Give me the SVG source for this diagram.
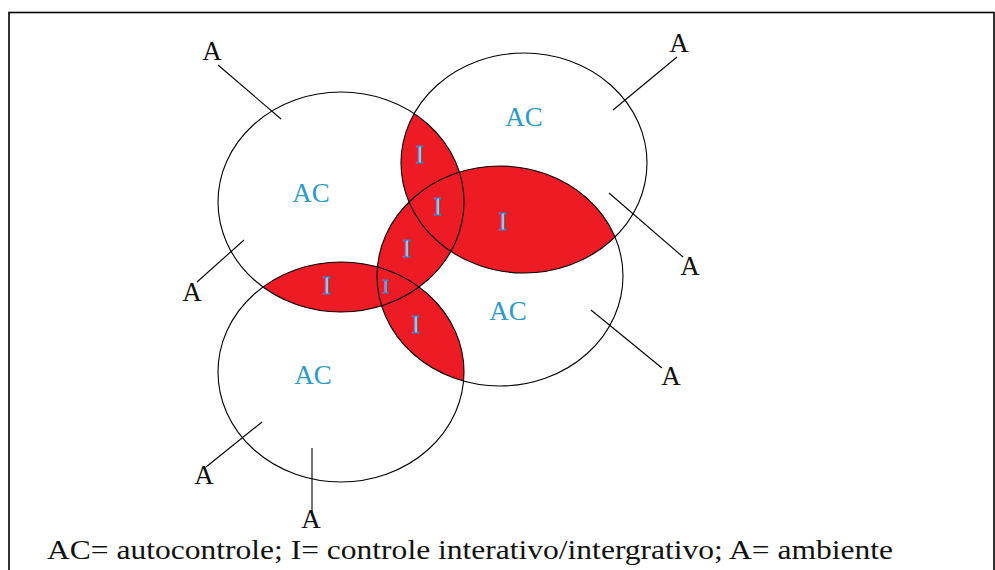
<svg xmlns="http://www.w3.org/2000/svg" xmlns:xlink="http://www.w3.org/1999/xlink" width="995" height="570" viewBox="0 0 995 570">
  <style>
    .ring { fill: none; stroke: #000; stroke-width: 1.1; }
    .lens { fill: #ED1C24; stroke: none; }
    .lead { stroke: #000; stroke-width: 1.1; fill: none; }
    .a { font-family: "Liberation Serif", "Times New Roman", serif; font-size: 27px; fill: #111; text-anchor: middle; }
    .ac { font-family: "Liberation Serif", "Times New Roman", serif; font-size: 27px; fill: #2B9ACB; text-anchor: middle; }
    .i { font-family: "Liberation Serif", "Times New Roman", serif; font-size: 25px; fill: #EEF7FD; stroke: #3F7EC4; stroke-width: 1.1; text-anchor: middle; }
    .legend { font-family: "Liberation Serif", "Times New Roman", serif; font-size: 28px; fill: #111; }
  </style>
  <defs>
    <ellipse id="eUL" cx="341" cy="202" rx="123" ry="110"/>
    <ellipse id="eUR" cx="524" cy="163" rx="123" ry="110"/>
    <ellipse id="eLR" cx="500" cy="276" rx="123" ry="110"/>
    <ellipse id="eLL" cx="341" cy="372" rx="123" ry="110"/>
    <clipPath id="cUL"><use xlink:href="#eUL"/></clipPath>
    <clipPath id="cLR"><use xlink:href="#eLR"/></clipPath>
  </defs>

  <rect x="9" y="12.5" width="985" height="570" fill="#fff" stroke="#000" stroke-width="1.6"/>

  <g id="intersections">
    <use xlink:href="#eUR" class="lens" clip-path="url(#cUL)"/>
    <use xlink:href="#eUR" class="lens" clip-path="url(#cLR)"/>
    <use xlink:href="#eUL" class="lens" clip-path="url(#cLR)"/>
    <use xlink:href="#eLL" class="lens" clip-path="url(#cUL)"/>
    <use xlink:href="#eLL" class="lens" clip-path="url(#cLR)"/>
  </g>

  <g id="circle-ul">
    <use xlink:href="#eUL" class="ring"/>
    <text class="ac" x="311" y="202">AC</text>
  </g>
  <g id="circle-ur">
    <use xlink:href="#eUR" class="ring"/>
    <text class="ac" x="524" y="126">AC</text>
  </g>
  <g id="circle-lr">
    <use xlink:href="#eLR" class="ring"/>
    <text class="ac" x="508" y="320">AC</text>
  </g>
  <g id="circle-ll">
    <use xlink:href="#eLL" class="ring"/>
    <text class="ac" x="313" y="384">AC</text>
  </g>

  <g id="interaction-labels">
    <text class="i" x="420" y="163">I</text>
    <text class="i" x="438" y="215">I</text>
    <text class="i" x="503" y="230">I</text>
    <text class="i" x="407" y="257">I</text>
    <text class="i" x="386" y="293" style="font-size:19px">I</text>
    <text class="i" x="416" y="333">I</text>
    <text class="i" x="327" y="294">I</text>
  </g>

  <g id="connectors">
    <line class="lead" x1="218" y1="65" x2="281" y2="119"/>
    <line class="lead" x1="677" y1="57" x2="613" y2="110"/>
    <line class="lead" x1="244" y1="240" x2="197" y2="282"/>
    <line class="lead" x1="609" y1="193" x2="683" y2="257"/>
    <line class="lead" x1="591" y1="310" x2="662" y2="368"/>
    <line class="lead" x1="262" y1="422" x2="206" y2="467"/>
    <line class="lead" x1="312" y1="448" x2="312" y2="516"/>
  </g>

  <g id="ambient-labels">
    <text class="a" x="212" y="60">A</text>
    <text class="a" x="679" y="52">A</text>
    <text class="a" x="192" y="301">A</text>
    <text class="a" x="690" y="275">A</text>
    <text class="a" x="671" y="385">A</text>
    <text class="a" x="204" y="484">A</text>
    <text class="a" x="311" y="528">A</text>
  </g>

  <g id="legend">
    <text class="legend" x="47" y="559" textLength="846" lengthAdjust="spacingAndGlyphs">AC= autocontrole; I= controle interativo/intergrativo; A= ambiente</text>
  </g>
</svg>
